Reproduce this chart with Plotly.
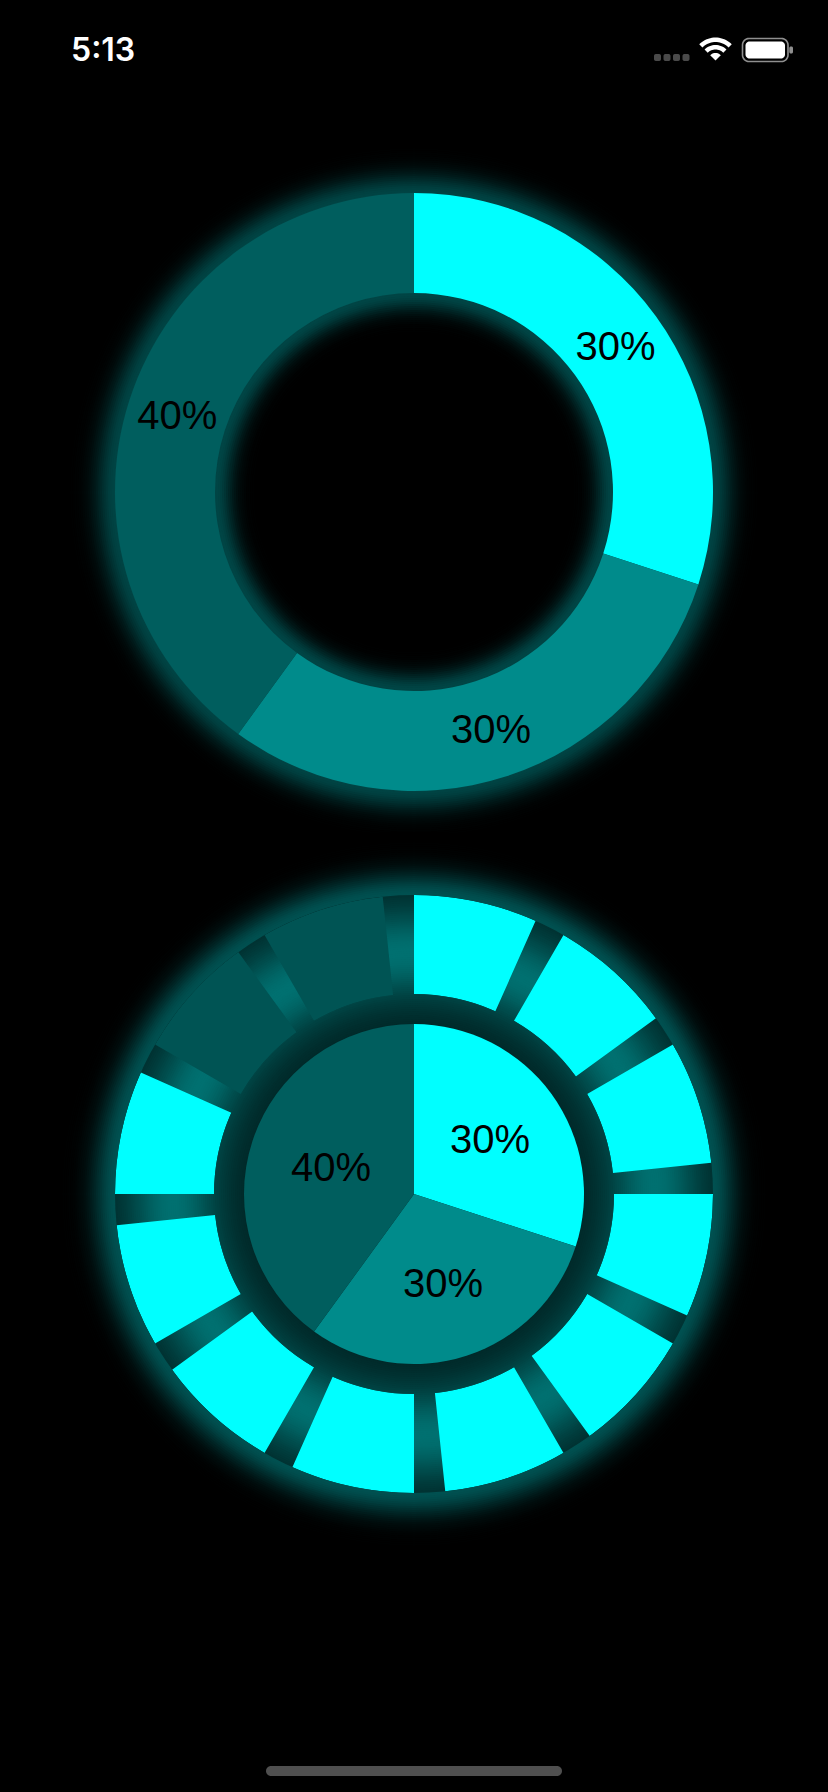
import math
import plotly.graph_objects as go

# ---------------- data ----------------
slice_labels = ["Segment A", "Segment B", "Segment C"]
slice_values = [30, 30, 40]
slice_colors = ["#00FFFF", "#008B8B", "#005E5E"]

ring_segments = ["S1", "S2", "S3", "S4", "S5", "S6", "S7", "S8", "S9", "S10", "S11", "S12"]
ring_lit = [1, 1, 1, 1, 1, 1, 1, 1, 1, 1, 0, 0]
ring_length = [1] * 12
lit_color = "#00FFFF"
unlit_color = "#005454"

status_time = "5:13"

# ---------------- layout helpers ----------------
W, H = 828, 1792
def X(px):
    return px / W
def Y(py):
    return 1 - py / H

def circle(cx, cy, r, color, layer="below"):
    return dict(type="circle", xref="paper", yref="paper",
                x0=X(cx - r), x1=X(cx + r), y0=Y(cy + r), y1=Y(cy - r),
                fillcolor=color, line=dict(width=0), layer=layer)

def cyan(f):
    f = max(0.0, min(1.0, f))
    return "rgb(0,%d,%d)" % (round(255 * f), round(255 * f))

def poly_path(points):
    s = "M %f,%f " % (X(points[0][0]), Y(points[0][1]))
    for (px, py) in points[1:]:
        s += "L %f,%f " % (X(px), Y(py))
    return s + "Z"

def rrect_points(x0, y0, x1, y1, r, n=8):
    pts = []
    corners = [(x1 - r, y0 + r, -90, 0), (x1 - r, y1 - r, 0, 90),
               (x0 + r, y1 - r, 90, 180), (x0 + r, y0 + r, 180, 270)]
    for cx, cy, a0, a1 in corners:
        for i in range(n + 1):
            a = math.radians(a0 + (a1 - a0) * i / n)
            pts.append((cx + r * math.cos(a), cy + r * math.sin(a)))
    return pts

def rrect(x0, y0, x1, y1, r, fill, line_color=None, line_width=0, layer="above"):
    return dict(type="path", xref="paper", yref="paper",
                path=poly_path(rrect_points(x0, y0, x1, y1, r)),
                fillcolor=fill,
                line=dict(width=line_width, color=line_color or fill),
                layer=layer)

def sector_points(cx, cy, r0, r1, a0, a1, n=24):
    # angles in degrees measured from 12 o'clock clockwise
    pts = []
    for i in range(n + 1):
        a = math.radians(a0 + (a1 - a0) * i / n)
        pts.append((cx + r1 * math.sin(a), cy - r1 * math.cos(a)))
    for i in range(n + 1):
        a = math.radians(a1 - (a1 - a0) * i / n)
        pts.append((cx + r0 * math.sin(a), cy - r0 * math.cos(a)))
    return pts

# geometry (pixels)
TCX, TCY, TR, THOLE = 414, 492, 299, 199
BCX, BCY, BR, BHOLE, PR = 414, 1194, 299, 200, 170

shapes = []

# --- top chart glow ---
r = 356
while r >= 300:
    f = 0.27 * math.exp(-((r - 299) / 21.0) ** 2)
    shapes.append(circle(TCX, TCY, r, cyan(f)))
    r -= 2
r = 200
while r >= 146:
    f = 0.27 * math.exp(-((199 - r) / 17.0) ** 2)
    shapes.append(circle(TCX, TCY, r, cyan(f)))
    r -= 2
shapes.append(circle(TCX, TCY, 144, "#000000"))

# --- bottom chart glow ---
r = 362
while r >= 300:
    f = 0.32 * math.exp(-((r - 299) / 24.0) ** 2)
    shapes.append(circle(BCX, BCY, r, cyan(f)))
    r -= 2
r = 299
while r >= 168:
    f = 0.14 + 0.30 * math.exp(-((r - 242) / 45.0) ** 2)
    shapes.append(circle(BCX, BCY, r, cyan(f)))
    r -= 2

# --- status bar ---
for i in range(4):
    x0 = 654 + i * 9.5
    shapes.append(rrect(x0, 54, x0 + 7, 61, 2, "#4a4a4a"))
# wifi
wx, wy = 715.5, 60.5
shapes.append(dict(type="path", xref="paper", yref="paper",
                   path=poly_path(sector_points(wx, wy, 0, 7.5, -45, 45, 10)),
                   fillcolor="white", line=dict(width=0), layer="above"))
shapes.append(dict(type="path", xref="paper", yref="paper",
                   path=poly_path(sector_points(wx, wy, 11, 15.5, -45, 45, 16)),
                   fillcolor="white", line=dict(width=0), layer="above"))
shapes.append(dict(type="path", xref="paper", yref="paper",
                   path=poly_path(sector_points(wx, wy, 18.5, 23, -45, 45, 20)),
                   fillcolor="white", line=dict(width=0), layer="above"))
# battery
shapes.append(rrect(742.5, 38.5, 788, 61.5, 6.5, "rgba(0,0,0,0)", "#8f8f8f", 1.6))
shapes.append(rrect(745.5, 41.5, 785, 58.5, 4, "white"))
shapes.append(rrect(789.3, 46.5, 793, 53.5, 1.5, "#8f8f8f"))
# home indicator
shapes.append(rrect(266, 1766, 562, 1776, 5, "#4f4f4f"))

label_font = dict(family="Liberation Sans, Arial, sans-serif", size=40, color="black")

fig = go.Figure()

# top donut
fig.add_trace(go.Pie(
    labels=slice_labels, values=slice_values,
    marker=dict(colors=slice_colors, line=dict(width=0)),
    hole=THOLE / TR, sort=False, direction="clockwise", rotation=0,
    textinfo="percent", textposition="inside", insidetextorientation="horizontal",
    textfont=label_font, hoverinfo="skip", showlegend=False,
    domain=dict(x=[X(TCX - TR), X(TCX + TR)], y=[Y(TCY + TR), Y(TCY - TR)]),
))

# bottom pie
fig.add_trace(go.Pie(
    labels=slice_labels, values=slice_values,
    marker=dict(colors=slice_colors, line=dict(width=0)),
    hole=0, sort=False, direction="clockwise", rotation=0,
    textinfo="percent", textposition="inside", insidetextorientation="horizontal",
    textfont=label_font, hoverinfo="skip", showlegend=False,
    domain=dict(x=[X(BCX - PR), X(BCX + PR)], y=[Y(BCY + PR), Y(BCY - PR)]),
))

# outer segmented ring
fig.add_trace(go.Barpolar(
    theta=ring_segments, r=ring_length, width=0.8,
    marker=dict(color=[lit_color if v else unlit_color for v in ring_lit], line=dict(width=0)),
    hoverinfo="skip", showlegend=False,
))

fig.update_layout(
    width=W, height=H,
    margin=dict(l=0, r=0, t=0, b=0),
    paper_bgcolor="black", plot_bgcolor="black",
    showlegend=False,
    shapes=shapes,
    polar=dict(
        domain=dict(x=[X(BCX - BR), X(BCX + BR)], y=[Y(BCY + BR), Y(BCY - BR)]),
        hole=BHOLE / BR,
        bgcolor="rgba(0,0,0,0)",
        radialaxis=dict(visible=False, range=[0, 1]),
        angularaxis=dict(type="category", direction="clockwise", rotation=78,
                         visible=False, showgrid=False, showline=False),
    ),
    annotations=[dict(text=status_time, x=X(103), y=Y(50), xref="paper", yref="paper",
                      showarrow=False, xanchor="center", yanchor="middle",
                      font=dict(family="Inter, Roboto, sans-serif", size=32, color="white", weight=600))],
)

fig.write_html("out.html")
